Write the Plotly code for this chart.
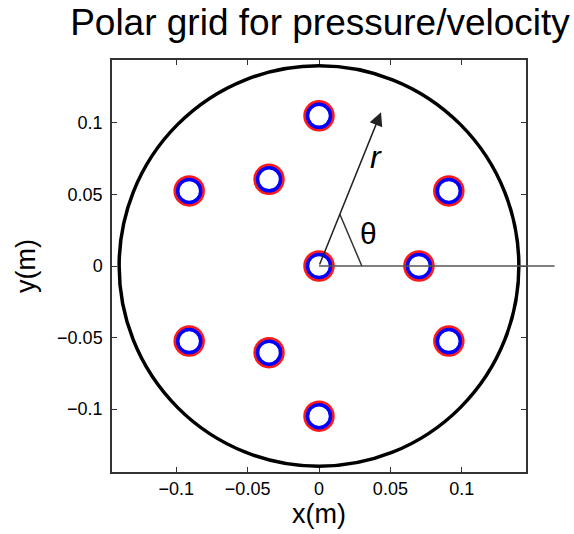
import numpy as np
import plotly.graph_objects as go

# Measurement grid: centre point plus two rings (radius in m, angle in degrees)
ring_radius = [0.0, 0.07, 0.07, 0.07, 0.105, 0.105, 0.105, 0.105, 0.105, 0.105]
ring_angle = [0, 0, 120, 240, 30, 90, 150, 210, 270, 330]

duct_radius = 0.14          # outer wall of the duct (m)
r_arrow_angle = 68          # direction of the r arrow (deg)
r_arrow_length = 0.116
theta_mark = 0.039          # where the angle marker meets the r arrow
x_ticks = [-0.1, -0.05, 0, 0.05, 0.1]
y_ticks = [-0.1, -0.05, 0, 0.05, 0.1]
tick_text = ["−0.1", "−0.05", "0", "0.05", "0.1"]
x_range = [-0.145, 0.145]
y_range = [-0.144, 0.144]

rad = np.deg2rad(ring_angle)
px = np.array(ring_radius) * np.cos(rad)
py = np.array(ring_radius) * np.sin(rad)

font = "Liberation Sans, Arial, Helvetica, sans-serif"

fig = go.Figure()

# pressure (red) and velocity (blue) probe positions
fig.add_trace(go.Scatter(
    x=px, y=py, mode="markers", hoverinfo="skip",
    marker=dict(symbol="circle-open", size=27, color="#ff1a1a",
                line=dict(width=4.5, color="#ff1a1a")),
))
fig.add_trace(go.Scatter(
    x=px, y=py, mode="markers", hoverinfo="skip",
    marker=dict(symbol="circle-open", size=23, color="#0000ff",
                line=dict(width=3.5, color="#0000ff")),
))

# duct wall
fig.add_shape(type="circle", xref="x", yref="y",
              x0=-duct_radius, y0=-duct_radius, x1=duct_radius, y1=duct_radius,
              line=dict(color="black", width=3.5), layer="above")


def to_paper_x(v):
    return (v - x_range[0]) / (x_range[1] - x_range[0])


def to_paper_y(v):
    return (v - y_range[0]) / (y_range[1] - y_range[0])


# reference axis for theta, running out past the frame
fig.add_shape(type="line", xref="paper", yref="paper",
              x0=to_paper_x(0), y0=to_paper_y(0),
              x1=to_paper_x(0.165), y1=to_paper_y(0),
              line=dict(color="#555555", width=1.6), layer="above")

# r arrow
ar = np.deg2rad(r_arrow_angle)
fig.add_annotation(x=r_arrow_length * np.cos(ar), y=r_arrow_length * np.sin(ar),
                   ax=0, ay=0, xref="x", yref="y", axref="x", ayref="y",
                   text="", showarrow=True, arrowhead=2, arrowsize=1.8,
                   arrowwidth=1.5, arrowcolor="#222222", standoff=0)

# theta marker line
fig.add_shape(type="line", xref="x", yref="y",
              x0=theta_mark * np.cos(ar), y0=theta_mark * np.sin(ar),
              x1=0.030, y1=0.0,
              line=dict(color="#333333", width=1.5), layer="above")

fig.add_annotation(x=0.040, y=0.076, xref="x", yref="y", text="<i>r</i>",
                   showarrow=False, font=dict(family=font, size=32, color="black"))
fig.add_annotation(x=0.035, y=0.023, xref="x", yref="y", text="θ",
                   showarrow=False, font=dict(family=font, size=30, color="black"))

axis_common = dict(
    showgrid=False, zeroline=False, showline=True, linecolor="#333333",
    linewidth=1.5, mirror="ticks", ticks="inside", ticklen=5,
    tickcolor="#333333", tickwidth=1,
    tickfont=dict(family=font, size=18, color="black"),
)

fig.update_layout(
    width=574, height=534,
    margin=dict(l=112, r=48, t=60, b=62),
    paper_bgcolor="white", plot_bgcolor="white",
    showlegend=False,
    title=dict(text="Polar grid for pressure/velocity", x=320 / 574,
               xanchor="center", y=1 - 9 / 534, yanchor="top", yref="container",
               font=dict(family=font, size=37, color="black")),
    xaxis=dict(range=x_range, tickvals=x_ticks, ticktext=tick_text,
               title=dict(text="x(m)", font=dict(family=font, size=27, color="black"),
                          standoff=4),
               **axis_common),
    yaxis=dict(range=y_range, tickvals=y_ticks, ticktext=tick_text,
               ticklabelstandoff=4,
               title=dict(text="y(m)", font=dict(family=font, size=27, color="black"),
                          standoff=14),
               **axis_common),
)

fig.write_html("out.html")
